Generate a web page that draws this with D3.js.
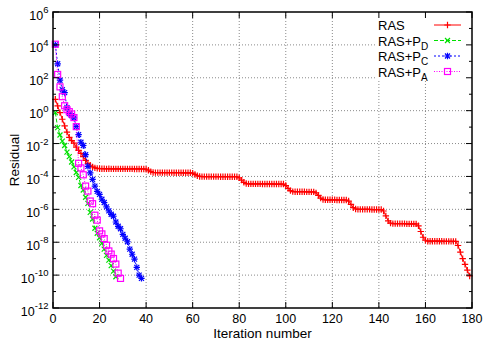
<!DOCTYPE html>
<html>
<head>
<meta charset="utf-8">
<script src="https://cdn.jsdelivr.net/npm/d3@7"></script>
<style>
  html, body { margin: 0; padding: 0; background: #fff; }
  svg { display: block; font-family: "Liberation Sans", Arial, sans-serif; }
</style>
</head>
<body>
<svg id="chart" width="484" height="341"></svg>
<script>
// ---- data (residual per iteration, iterations start at 1) ----
const seriesNames = ["RAS", "RAS+P_D", "RAS+P_C", "RAS+P_A"];

const rasValues = [
  4.9, 1.95, 0.76, 0.30, 0.12, 5.0e-2, 2.4e-2, 1.5e-2, 1.05e-2, 6.0e-3,
  3.8e-3, 2.5e-3, 1.6e-3, 9.5e-4, 6.3e-4, 4.8e-4, 3.8e-4, 3.3e-4, 3.1e-4, 2.95e-4,
  2.95e-4, 2.95e-4, 2.9e-4, 2.95e-4, 2.9e-4, 2.9e-4, 2.9e-4, 2.9e-4, 2.88e-4, 2.9e-4,
  2.88e-4, 2.88e-4, 2.87e-4, 2.87e-4, 2.86e-4, 2.86e-4, 2.85e-4, 2.85e-4, 2.83e-4,
  2.75e-4, 2.4e-4, 1.95e-4, 1.74e-4,
  1.7e-4, 1.7e-4, 1.7e-4, 1.7e-4, 1.7e-4, 1.7e-4, 1.7e-4, 1.7e-4,
  1.68e-4, 1.68e-4, 1.68e-4, 1.68e-4, 1.66e-4, 1.66e-4, 1.66e-4, 1.66e-4,
  1.58e-4, 1.32e-4, 1.1e-4, 1.0e-4,
  9.8e-5, 9.8e-5, 9.8e-5, 9.8e-5, 9.8e-5, 9.8e-5, 9.8e-5, 9.8e-5,
  9.6e-5, 9.6e-5, 9.6e-5, 9.6e-5, 9.6e-5, 9.6e-5, 9.6e-5, 9.6e-5,
  8.3e-5, 6.0e-5, 4.4e-5, 3.7e-5,
  3.55e-5, 3.55e-5, 3.55e-5, 3.55e-5, 3.55e-5, 3.55e-5, 3.5e-5, 3.5e-5,
  3.5e-5, 3.5e-5, 3.5e-5, 3.45e-5, 3.45e-5, 3.45e-5, 3.45e-5, 3.45e-5,
  2.8e-5, 1.9e-5, 1.38e-5, 1.2e-5,
  1.17e-5, 1.17e-5, 1.17e-5, 1.17e-5, 1.17e-5, 1.15e-5, 1.15e-5, 1.15e-5, 1.15e-5,
  1.0e-5, 7.1e-6, 4.8e-6, 4.0e-6,
  3.8e-6, 3.8e-6, 3.8e-6, 3.8e-6, 3.8e-6, 3.7e-6, 3.7e-6, 3.7e-6, 3.7e-6, 3.7e-6,
  3.2e-6, 2.0e-6, 1.26e-6, 1.05e-6,
  1.0e-6, 1.0e-6, 1.0e-6, 1.0e-6, 1.0e-6, 1.0e-6, 9.7e-7, 9.7e-7, 9.7e-7, 9.7e-7, 9.7e-7,
  7.9e-7, 4.0e-7, 2.0e-7, 1.45e-7,
  1.35e-7, 1.35e-7, 1.35e-7, 1.35e-7, 1.35e-7, 1.35e-7, 1.3e-7, 1.3e-7, 1.3e-7, 1.3e-7, 1.3e-7,
  1.0e-7, 4.5e-8, 2.0e-8, 1.32e-8,
  1.15e-8, 1.15e-8, 1.15e-8, 1.15e-8, 1.15e-8, 1.15e-8, 1.15e-8,
  1.12e-8, 1.12e-8, 1.12e-8, 1.12e-8, 1.12e-8, 1.12e-8,
  6.3e-9, 2.5e-9, 1.0e-9, 4.5e-10, 2.0e-10, 8.9e-11
];

const pdValues = [
  0.76, 9.3e-2, 3.3e-2, 1.4e-2, 7.6e-3, 3.0e-3, 1.6e-3, 7.6e-4, 3.8e-4, 1.74e-4,
  8.7e-5, 2.8e-5, 1.5e-5, 5.4e-6, 2.3e-6, 6.6e-7, 2.6e-7, 7.1e-8, 3.5e-8, 1.86e-8,
  8.7e-9, 3.8e-9, 1.6e-9, 8.1e-10, 3.8e-10, 1.74e-10, 7.9e-11
];

const pcValues = [
  1.0e4, 7.1e2, 71, 18.6, 12.6, 1.5, 0.66, 0.5, 0.36, 0.107,
  3.5e-2, 1.2e-2, 7.6e-3, 2.1e-3, 4.1e-4, 1.66e-4, 6.6e-5, 2.6e-5, 1.23e-5, 8.1e-6,
  4.1e-6, 2.6e-6, 1.4e-6, 8.1e-7, 5.0e-7, 3.8e-7, 1.7e-7, 9.3e-8, 6.6e-8, 3.0e-8,
  1.74e-8, 1.07e-8, 3.8e-9, 1.86e-9, 9.3e-10, 2.95e-10, 1.0e-10, 6.3e-11
];

const paValues = [
  1.1e4, 1.6e2, 28, 7.1, 2.0, 1.15, 0.87, 0.63, 0.38, 0.107,
  6.3e-4, 3.3e-4, 1.26e-4, 2.6e-5, 1.29e-5, 3.2e-6, 2.2e-6, 4.4e-7, 2.2e-7, 4.9e-8,
  3.2e-8, 1.66e-8, 6.6e-9, 2.95e-9, 1.9e-9, 1.02e-9, 4.7e-10, 1.32e-10, 6.3e-11
];

const xTicks = [0, 20, 40, 60, 80, 100, 120, 140, 160, 180];
const yTickExponents = [6, 4, 2, 0, -2, -4, -6, -8, -10, -12];
const yMinorExponents = [5, 3, 1, -1, -3, -5, -7, -9, -11];
const xLabel = "Iteration number";
const yLabel = "Residual";

// ---- layout ----
const svg = d3.select("#chart");
const L = 53, R = 472, T = 12, B = 308;
const x = d3.scaleLinear().domain([0, 180]).range([L, R]);
const y = d3.scaleLog().domain([1e-12, 1e6]).range([B, T]);
const font = "'Liberation Sans', Arial, sans-serif";

// grid
const grid = svg.append("g").attr("stroke", "#8a8a8a").attr("stroke-width", 1)
  .attr("stroke-dasharray", "1,2");
xTicks.filter(t => t > 0 && t < 180).forEach(t => {
  grid.append("line").attr("x1", x(t)).attr("x2", x(t)).attr("y1", T).attr("y2", B);
});
yTickExponents.filter(e => e < 6 && e > -12).forEach(e => {
  grid.append("line").attr("x1", L).attr("x2", R).attr("y1", y(Math.pow(10, e))).attr("y2", y(Math.pow(10, e)));
});

// series definitions
const series = [
  { name: "RAS", sub: null, values: rasValues, color: "#ff0000", dash: null, marker: "plus" },
  { name: "RAS+P", sub: "D", values: pdValues, color: "#00e000", dash: "4,2", marker: "cross" },
  { name: "RAS+P", sub: "C", values: pcValues, color: "#0000ff", dash: "2,2", marker: "star" },
  { name: "RAS+P", sub: "A", values: paValues, color: "#ff00ff", dash: "1,1.5", marker: "square" }
];

function drawMarker(g, type, cx, cy, color) {
  const s = 3.2;
  if (type === "plus" || type === "star") {
    g.append("path").attr("d", `M${cx - s},${cy}H${cx + s}M${cx},${cy - s}V${cy + s}`)
      .attr("stroke", color).attr("stroke-width", 1.2).attr("fill", "none");
  }
  if (type === "cross" || type === "star") {
    const c = 2.5;
    g.append("path").attr("d", `M${cx - c},${cy - c}L${cx + c},${cy + c}M${cx - c},${cy + c}L${cx + c},${cy - c}`)
      .attr("stroke", color).attr("stroke-width", 1.2).attr("fill", "none");
  }
  if (type === "square") {
    g.append("rect").attr("x", cx - 3).attr("y", cy - 3).attr("width", 6).attr("height", 6)
      .attr("stroke", color).attr("stroke-width", 1.2).attr("fill", "none");
  }
}

const line = d3.line().x(d => x(d.i)).y(d => y(d.v));
series.forEach(s => {
  const pts = s.values.map((v, k) => ({ i: k + 1, v: v }));
  const g = svg.append("g");
  g.append("path").attr("d", line(pts)).attr("fill", "none")
    .attr("stroke", s.color).attr("stroke-width", 1)
    .attr("stroke-dasharray", s.dash);
  pts.forEach(p => drawMarker(g, s.marker, x(p.i), y(p.v), s.color));
});

// legend
const lg = svg.append("g");
lg.append("rect").attr("x", 376).attr("y", 14).attr("width", 95).attr("height", 66).attr("fill", "#fff");
series.forEach((s, k) => {
  const ly = 25 + k * 15.5;
  const t = lg.append("text").attr("x", 378).attr("y", ly + 5)
    .attr("font-size", 13).attr("font-family", font).attr("fill", "#000");
  t.append("tspan").text(s.name);
  if (s.sub) t.append("tspan").attr("dy", 4).attr("font-size", 10).text(s.sub);
  lg.append("line").attr("x1", 434).attr("x2", 461).attr("y1", ly).attr("y2", ly)
    .attr("stroke", s.color).attr("stroke-width", 1).attr("stroke-dasharray", s.dash);
  drawMarker(lg, s.marker, 447.5, ly, s.color);
});

// frame
svg.append("rect").attr("x", L).attr("y", T).attr("width", R - L).attr("height", B - T)
  .attr("fill", "none").attr("stroke", "#000").attr("stroke-width", 1.5);

// ticks
const tk = svg.append("g").attr("stroke", "#000").attr("stroke-width", 1);
xTicks.forEach(t => {
  tk.append("line").attr("x1", x(t)).attr("x2", x(t)).attr("y1", B).attr("y2", B - 6);
  tk.append("line").attr("x1", x(t)).attr("x2", x(t)).attr("y1", T).attr("y2", T + 6);
});
yTickExponents.forEach(e => {
  const yy = y(Math.pow(10, e));
  tk.append("line").attr("x1", L).attr("x2", L + 6).attr("y1", yy).attr("y2", yy);
  tk.append("line").attr("x1", R).attr("x2", R - 6).attr("y1", yy).attr("y2", yy);
});
yMinorExponents.forEach(e => {
  const yy = y(Math.pow(10, e));
  tk.append("line").attr("x1", L).attr("x2", L + 3).attr("y1", yy).attr("y2", yy);
  tk.append("line").attr("x1", R).attr("x2", R - 3).attr("y1", yy).attr("y2", yy);
});

// tick labels
xTicks.forEach(t => {
  svg.append("text").attr("x", x(t)).attr("y", 323).attr("text-anchor", "middle")
    .attr("font-size", 12.5).attr("font-family", font).text(t);
});
yTickExponents.forEach(e => {
  const yy = y(Math.pow(10, e));
  const t = svg.append("text").attr("x", 48.5).attr("y", yy + 7.5).attr("text-anchor", "end")
    .attr("font-size", 12.5).attr("font-family", font);
  t.append("tspan").text("10");
  t.append("tspan").attr("dy", -6.5).attr("font-size", 9.5).text(String(e));
});

// axis titles
svg.append("text").attr("x", (L + R) / 2).attr("y", 337.5).attr("text-anchor", "middle")
  .attr("font-size", 13.5).attr("font-family", font).text(xLabel);
svg.append("text").attr("transform", `translate(18.5,${(T + B) / 2}) rotate(-90)`)
  .attr("text-anchor", "middle").attr("font-size", 13.5).attr("font-family", font).text(yLabel);
</script>
</body>
</html>
